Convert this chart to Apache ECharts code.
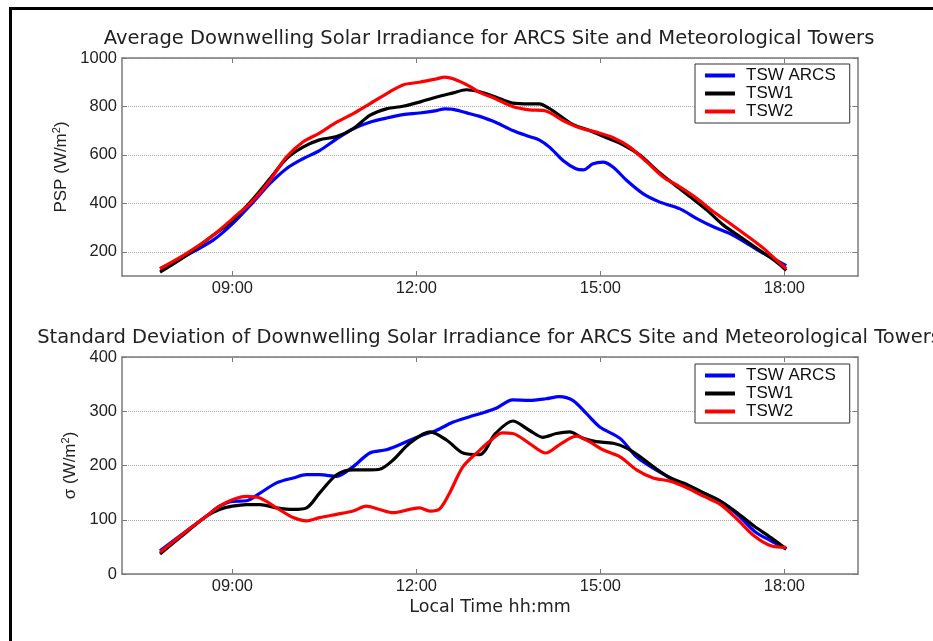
<!DOCTYPE html>
<html>
<head>
<meta charset="utf-8">
<script src="https://cdn.jsdelivr.net/npm/echarts@6/dist/echarts.min.js"></script>
<style>
  html, body { margin: 0; padding: 0; background: #fff; }
  #chart { width: 933px; height: 641px; }
</style>
</head>
<body>
<div id="chart"></div>
<script>
// hours of day, irradiance in W/m2
const seriesNames = ['TSW ARCS', 'TSW1', 'TSW2']
const timeTicks = [9, 12, 15, 18]
const avgTicks = [200, 400, 600, 800, 1000]
const sdTicks = [0, 100, 200, 300, 400]

const avgArcs = [[7.82,130],[8.25,185],[8.68,247],[9.0,315],[9.34,405],[9.61,481],[9.88,543],[10.15,584],[10.42,618],[10.7,666],[10.97,708],[11.24,735],[11.51,752],[11.78,766],[12.05,773],[12.33,783],[12.46,790],[12.6,788],[12.87,770],[13.02,760],[13.29,735],[13.57,701],[13.84,676],[14.0,662],[14.17,632],[14.39,577],[14.6,543],[14.72,538],[14.88,563],[15.04,570],[15.21,549],[15.43,494],[15.7,439],[15.97,405],[16.3,377],[16.58,336],[16.85,302],[17.12,274],[17.4,233],[17.67,192],[18.03,143]]
const avgTsw1 = [[7.82,116],[8.25,185],[8.68,267],[9.0,329],[9.34,419],[9.61,501],[9.88,584],[10.15,632],[10.42,662],[10.7,676],[10.97,708],[11.24,763],[11.51,790],[11.78,801],[12.05,818],[12.33,839],[12.6,856],[12.81,869],[13.02,861],[13.29,839],[13.57,814],[13.84,811],[14.0,811],[14.22,783],[14.55,726],[14.82,701],[15.1,671],[15.37,642],[15.65,598],[15.92,536],[16.19,481],[16.47,426],[16.74,371],[17.01,309],[17.29,260],[17.56,212],[17.84,164],[18.03,123]]
const avgTsw2 = [[7.82,130],[8.25,192],[8.68,267],[9.0,336],[9.34,412],[9.61,494],[9.88,591],[10.15,653],[10.42,690],[10.7,735],[10.97,770],[11.24,811],[11.51,852],[11.78,889],[12.05,900],[12.33,914],[12.46,921],[12.6,914],[12.87,883],[13.02,859],[13.29,832],[13.57,800],[13.84,786],[14.11,781],[14.39,742],[14.66,712],[14.93,694],[15.21,671],[15.48,632],[15.76,570],[16.03,508],[16.3,467],[16.58,419],[16.85,364],[17.12,316],[17.4,264],[17.67,212],[17.84,172],[18.03,130]]

const sdArcs = [[7.82,43],[8.25,79],[8.58,107],[8.79,125],[9.0,134],[9.23,135],[9.45,149],[9.72,168],[9.99,177],[10.21,183],[10.42,183],[10.7,180],[10.97,198],[11.24,223],[11.51,229],[11.78,241],[12.05,254],[12.33,265],[12.6,280],[12.87,290],[13.02,295],[13.29,305],[13.57,321],[13.84,320],[14.11,323],[14.33,327],[14.55,320],[14.77,296],[14.99,271],[15.32,250],[15.59,216],[15.86,195],[16.14,177],[16.41,162],[16.69,149],[16.96,134],[17.23,110],[17.51,79],[17.78,61],[18.03,46]]
const sdTsw1 = [[7.82,37],[8.25,77],[8.58,107],[8.79,119],[9.0,125],[9.23,128],[9.45,128],[9.72,122],[9.99,119],[10.21,122],[10.42,149],[10.7,183],[10.97,192],[11.24,192],[11.4,193],[11.62,210],[11.89,241],[12.22,262],[12.49,247],[12.76,223],[13.03,220],[13.29,259],[13.57,282],[13.84,265],[14.06,252],[14.28,259],[14.5,262],[14.72,250],[14.93,244],[15.21,241],[15.43,232],[15.65,216],[15.86,198],[16.14,177],[16.41,165],[16.69,149],[16.96,134],[17.23,113],[17.51,88],[17.78,67],[18.03,46]]
const sdTsw2 = [[7.82,40],[8.25,79],[8.58,107],[8.79,125],[9.0,137],[9.23,143],[9.45,140],[9.72,122],[9.99,104],[10.21,98],[10.42,104],[10.7,110],[10.97,116],[11.18,125],[11.4,119],[11.62,113],[11.89,119],[12.05,122],[12.22,116],[12.38,120],[12.54,149],[12.76,198],[13.03,228],[13.2,245],[13.4,260],[13.57,259],[13.84,241],[14.11,223],[14.33,238],[14.61,254],[14.82,244],[15.04,229],[15.32,216],[15.59,192],[15.86,177],[16.14,171],[16.41,159],[16.69,143],[16.96,128],[17.23,101],[17.51,70],[17.78,52],[18.03,49]]

const colors = ['#0000ff', '#000000', '#ff0000']
const axisGray = '#7a7a7a'
const font = 'Liberation Sans'
const wideFont = 'DejaVu Sans'

const fmtTime = v => (v < 10 ? '0' : '') + v + ':00'

const makeX = function (gridIndex, position, showLabels, extra) {
    return Object.assign({
        type: 'value', gridIndex, position, min: 7.2, max: 19.2,
        axisLine: { show: true, onZero: false, lineStyle: { color: axisGray, width: 1.5 } },
        axisTick: { show: true, inside: true, length: 5, customValues: timeTicks, lineStyle: { color: axisGray } },
        axisLabel: { show: showLabels, customValues: timeTicks, formatter: fmtTime, margin: 4,
            color: '#222', fontFamily: font, fontSize: 16.5 },
        splitLine: { show: false }
    }, extra || {})
}
const makeY = function (gridIndex, position, showLabels, min, max, ticks, extra) {
    return Object.assign({
        type: 'value', gridIndex, position, min, max,
        axisLine: { show: true, onZero: false, lineStyle: { color: axisGray, width: 1.5 } },
        axisTick: { show: true, inside: true, length: 5, customValues: ticks, lineStyle: { color: axisGray } },
        axisLabel: { show: showLabels, customValues: ticks, margin: 5, formatter: v => String(v),
            color: '#222', fontFamily: font, fontSize: 16.5 },
        splitLine: { show: showLabels, lineStyle: { type: 'dotted', color: '#a8a8a8', width: 1 } }
    }, extra || {})
}

const nameRich = {
    base: { fontFamily: font, fontSize: 17, color: '#222' },
    sup: { fontFamily: font, fontSize: 11, color: '#222', verticalAlign: 'top', padding: [0, 0, 8, 0] }
}

const lineSeries = function (name, data, i, axis) {
    return {
        name, type: 'line', data, xAxisIndex: axis, yAxisIndex: axis,
        symbol: 'none', smooth: 0.3, silent: true,
        lineStyle: { color: colors[i], width: 3.2 },
        itemStyle: { color: colors[i] }
    }
}

const legendBox = function (top) {
    return {
        orient: 'vertical', left: 695, top, data: seriesNames,
        icon: 'rect', itemWidth: 30, itemHeight: 4, itemGap: 1,
        padding: [3, 14, 3, 10], borderColor: '#333', borderWidth: 1, borderRadius: 0,
        backgroundColor: '#fff', selectedMode: false,
        textStyle: { fontFamily: font, fontSize: 17, lineHeight: 17, color: '#111', padding: [0, 0, 0, 6] }
    }
}

const chart = echarts.init(document.getElementById('chart'))
const option = {
    animation: false,
    backgroundColor: '#fff',
    title: [
        { text: 'Average Downwelling Solar Irradiance for ARCS Site and Meteorological Towers',
          left: 489, top: 29, textAlign: 'center', padding: 0,
          textStyle: { fontFamily: wideFont, fontSize: 19.5, fontWeight: 'normal', color: '#222' } },
        { text: 'Standard Deviation of Downwelling Solar Irradiance for ARCS Site and Meteorological Towers',
          left: 489, top: 328, textAlign: 'center', padding: 0,
          textStyle: { fontFamily: wideFont, fontSize: 19.5, fontWeight: 'normal', color: '#222' } }
    ],
    legend: [legendBox(64), legendBox(364)],
    grid: [
        { left: 122, top: 58, width: 736, height: 218 },
        { left: 122, top: 357, width: 736, height: 217 }
    ],
    xAxis: [
        makeX(0, 'bottom', true),
        makeX(0, 'top', false),
        makeX(1, 'bottom', true, {
            name: 'Local Time hh:mm', nameLocation: 'middle', nameGap: 24,
            nameTextStyle: { fontFamily: wideFont, fontSize: 17.5, color: '#222' }
        }),
        makeX(1, 'top', false)
    ],
    yAxis: [
        makeY(0, 'left', true, 100, 1000, avgTicks, {
            name: '{base|PSP (W/m}{sup|2}{base|)}', nameLocation: 'middle', nameGap: 41,
            nameTextStyle: { rich: nameRich }
        }),
        makeY(0, 'right', false, 100, 1000, avgTicks),
        makeY(1, 'left', true, 0, 400, sdTicks, {
            name: '{base|σ (W/m}{sup|2}{base|)}', nameLocation: 'middle', nameGap: 40,
            nameTextStyle: { rich: nameRich }
        }),
        makeY(1, 'right', false, 0, 400, sdTicks)
    ],
    graphic: [
        { type: 'rect', silent: true, z: 100,
          shape: { x: 10.5, y: 8.5, width: 1000, height: 1000 },
          style: { fill: 'none', stroke: '#000', lineWidth: 3 } }
    ],
    series: [
        lineSeries(seriesNames[0], avgArcs, 0, 0),
        lineSeries(seriesNames[1], avgTsw1, 1, 0),
        lineSeries(seriesNames[2], avgTsw2, 2, 0),
        lineSeries(seriesNames[0], sdArcs, 0, 2),
        lineSeries(seriesNames[1], sdTsw1, 1, 2),
        lineSeries(seriesNames[2], sdTsw2, 2, 2)
    ]
}
option && chart.setOption(option)
</script>
</body>
</html>
